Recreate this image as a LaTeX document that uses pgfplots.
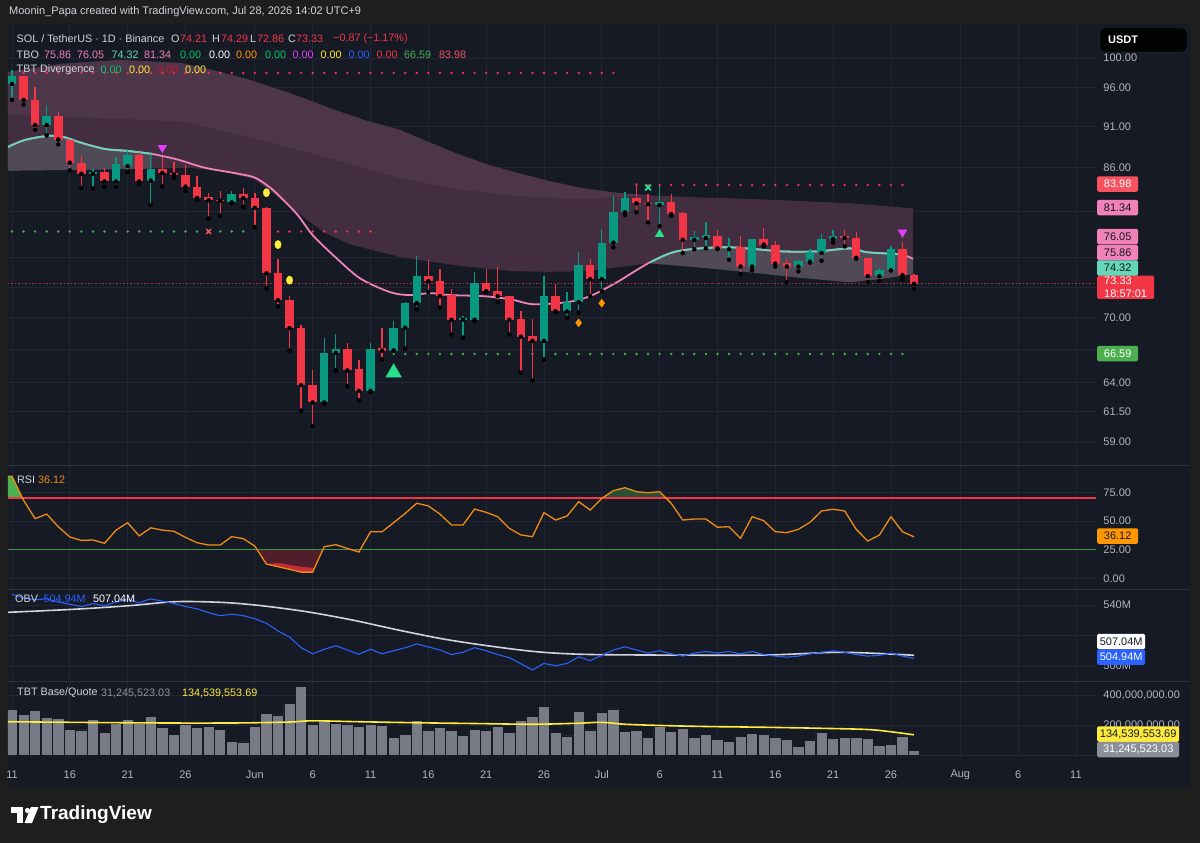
\documentclass[border=0pt]{standalone}
\usepackage{fontspec}
\setmainfont{Liberation Sans}
\usepackage{pgfplots}
\pgfplotsset{compat=1.18}
\usepackage{pgfplotstable}

\definecolor{cBg}{RGB}{22,26,37}
\definecolor{cOuter}{RGB}{30,30,30}
\definecolor{cGrid}{RGB}{34,38,50}
\definecolor{cSep}{RGB}{46,50,62}
\definecolor{cTxt}{RGB}{178,181,190}
\definecolor{cLeg}{RGB}{209,212,220}
\definecolor{cUp}{RGB}{8,153,129}
\definecolor{cDn}{RGB}{242,54,69}
\definecolor{cRedL}{RGB}{247,82,95}
\definecolor{cPink}{RGB}{240,130,185}
\definecolor{cTeal}{RGB}{100,215,185}
\definecolor{cMauve}{RGB}{66,46,64}
\definecolor{cMauveL}{RGB}{78,54,74}
\definecolor{cGreyBand}{RGB}{80,74,88}
\definecolor{cDotG}{RGB}{76,175,80}
\definecolor{cOSline}{RGB}{60,150,66}
\definecolor{cOrange}{RGB}{255,152,0}
\definecolor{cRSI}{RGB}{240,140,20}
\definecolor{cBlue}{RGB}{41,98,255}
\definecolor{cYellow}{RGB}{255,235,59}
\definecolor{cVol}{RGB}{120,123,134}
\definecolor{cMag}{RGB}{224,64,251}
\definecolor{cMint}{RGB}{38,224,140}
\definecolor{cGreen2}{RGB}{0,200,100}
\definecolor{cDarkRed}{RGB}{210,20,50}
\definecolor{cDarkTxt}{RGB}{19,23,34}
\definecolor{cShadeG}{RGB}{40,80,55}
\definecolor{cShadeR}{RGB}{80,30,42}

\newcommand\tf{\fontsize{11}{13}\selectfont}
\newcommand\lf{\fontsize{10.8}{13}\selectfont}

% ---------- candles ----------
\pgfplotstableread{
d o h l c
0 96.5 98.4 94.4 97.5
3 91.2 93.8 89.9 92.3
7 85.3 85.9 83.6 85.5
9 84.4 87.3 83.8 86.4
10 86.2 88.2 85.5 87.5
12 84.5 87.6 81.7 85.9
19 82.0 83.3 81.9 82.9
27 62.3 68.1 62.2 66.7
28 66.7 68.4 65.1 67.0
31 63.3 67.6 63.2 67.05
33 66.9 69.7 66.9 69.05
34 69.05 71.5 67.1 71.4
35 71.4 76.2 70.8 74.1
39 69.8 70.2 68.1 70.0
40 69.8 74.5 69.7 73.4
46 67.8 74.1 66.1 72.1
48 70.6 72.5 70.0 71.5
49 71.5 76.6 70.5 75.3
51 73.8 79.1 72.6 77.6
52 77.6 82.7 77.1 80.9
53 80.9 83.2 80.6 82.5
56 81.7 83.9 79.4 82.1
59 77.9 78.9 76.9 78.2
60 78.1 79.8 77.0 78.4
62 76.9 78.1 75.8 77.0
64 75.1 78.0 74.7 78.0
68 75.1 75.8 74.6 75.7
69 75.6 76.9 75.5 76.6
70 76.5 78.5 75.7 78.0
71 78.0 79.0 77.6 78.3
75 74.1 74.9 73.6 74.7
76 74.7 77.2 74.7 76.9
}\upT

\pgfplotstableread{
d o h l c
1 97.5 97.6 93.8 94.4
2 94.4 96.1 90.6 91.2
4 92.3 92.8 88.8 89.4
5 89.4 89.5 85.7 86.6
6 86.6 87.4 83.65 85.3
8 85.5 86.0 83.8 84.4
11 87.5 87.9 84.1 84.4
13 85.9 87.3 83.8 85.4
14 85.4 86.7 84.8 85.2
15 85.2 86.3 83.3 83.8
16 83.8 85.0 82.3 82.5
17 82.6 83.1 80.2 82.25
18 82.3 83.3 80.5 82.2
20 82.9 83.6 81.5 82.5
21 82.5 83.1 79.3 81.4
22 81.4 81.5 72.9 74.4
23 74.4 75.9 71.1 71.7
24 71.7 72.1 66.9 69.0
25 69.0 69.3 61.6 63.8
26 63.8 65.1 60.3 62.3
29 67.0 67.6 63.7 65.1
30 65.2 66.0 62.5 63.3
32 67.1 69.0 66.1 66.9
36 74.1 75.8 72.5 73.6
37 73.6 74.8 71.0 72.1
38 72.2 72.8 68.4 69.8
41 73.4 74.8 72.5 72.6
42 72.6 75.1 71.5 72.1
43 72.1 72.1 68.4 69.8
44 69.9 70.6 64.9 68.2
45 68.3 69.9 64.2 67.8
47 72.1 73.3 70.6 70.6
50 75.3 75.9 72.1 73.8
54 82.5 84.2 80.9 81.9
55 81.95 83.0 79.8 81.8
57 82.1 83.0 80.5 80.7
58 80.8 80.9 76.5 77.9
61 78.3 79.0 76.9 77.0
63 77.1 78.3 74.3 75.1
65 78.0 79.2 77.2 77.4
66 77.4 77.8 75.1 75.4
67 75.5 75.9 73.5 75.1
72 78.3 79.0 77.2 78.1
73 78.1 78.7 75.9 76.0
74 76.0 76.0 73.5 74.1
77 76.9 77.7 73.8 74.21
78 74.21 74.29 72.86 73.33
}\dnT

% ---------- TBO moving line ----------
\pgfplotstableread{
d p
-0.35 88.50
1.12 89.35
3.11 89.85
4.32 89.76
6.05 88.98
8.04 88.25
10.03 88.01
12.11 87.65
14.35 86.96
16.69 86.0
19.54 85.3
21.01 84.84
22.31 83.7
23.43 82.33
24.73 80.55
26.03 78.36
27.93 76.1
30.09 73.89
32.68 72.5
34.41 72.2
36.14 72.4
37.87 72.2
40.73 72.1
43.06 71.8
45.05 71.3
47.99 71.5
49.98 72.1
52.31 73.49
53.70 74.5
55.17 75.53
57.16 76.58
59.49 77.0
62.34 77.1
66.67 76.67
69.61 76.67
72.46 77.0
73.93 76.58
76.78 76.37
77.91 75.9
}\maT

% ---------- RSI ----------
\pgfplotstableread{
d v
-0.35 89
0 89
1 68
2 52
3 56
4 45
5 36
6 33
7 33.4
8 30.5
9 42
10 48.5
11 37
12 44
13 42
14 41
15 35.7
16 31
17 29
18 29
19 36.3
20 34.6
21 28
22 12.4
23 10.1
24 7.8
25 5.4
26 5.4
27 27.6
28 29.3
29 26
30 22.9
31 40.6
32 40.6
33 48.5
34 56.6
35 65.4
36 63.1
37 56
38 46.5
39 46.5
40 60.4
41 57.5
42 53.7
43 43.6
44 37.8
45 36.3
46 57.2
47 50.8
48 54.3
49 66.8
50 59.5
51 69.7
52 76.4
53 79
54 75.5
55 74.6
56 75.5
57 65.4
58 50.8
59 51.7
60 51.7
61 44.5
62 45
63 34.9
64 53.7
65 50.2
66 40.6
67 39.8
68 42.7
69 48.8
70 58.7
71 60.2
72 58.7
73 42.7
74 32.5
75 37.7
76 53.7
77 40.6
78 36.12
}\rsiT

% ---------- OBV ----------
\pgfplotstableread{
d v
0 547
1 544.6
2 543.5
3 544
4 542
5 540.5
6 539
7 541
8 539.5
9 542
10 543.5
11 541.5
12 544
13 542.5
14 541
15 539
16 537.5
17 535
18 533
19 534
20 533
21 531
22 528
23 523
24 519
25 512
26 508
27 511
28 513.3
29 510.5
30 507.7
31 511
32 508
33 510
34 512
35 514.5
36 512.5
37 510.5
38 507.5
39 509
40 512
41 510
42 507.5
43 505.5
44 501.5
45 497.4
46 501.7
47 500.2
48 501.7
49 506
50 503.5
51 507
52 510.5
53 512.6
54 510.5
55 508.5
56 510
57 508
58 506.5
59 508.5
60 509.5
61 508.5
62 509.5
63 508
64 509.5
65 507.5
66 506.5
67 505.8
68 506.5
69 508
70 509
71 510
72 509
73 507.5
74 506.5
75 507
76 508.5
77 506.5
78 504.94
}\obvT

\pgfplotstableread{
d v
-0.35 535.2
5.6 537.3
10.2 539.6
14.2 542.2
18.2 541.7
21.5 539.6
25.4 535.7
29.4 530.2
33.4 523.6
37.3 517.7
41.3 513.1
45.3 509.4
49.2 507.7
55.2 507.2
65.1 507.2
71.7 509
78 507.04
}\obvmaT

% ---------- volume (millions) ----------
\pgfplotstableread{
d v
0 304
1 273
2 296
3 251
4 242
5 171
6 167
7 240
8 149
9 211
10 238
11 211
12 260
13 184
14 140
15 204
16 182
17 193
18 171
19 89
20 87
21 193
22 278
23 267
24 344
25 456
26 207
27 233
28 211
29 207
30 189
31 202
32 196
33 116
34 140
35 233
36 167
37 182
38 162
39 133
40 173
41 162
42 189
43 151
44 231
45 260
46 322
47 151
48 127
49 293
50 167
51 284
52 307
53 156
54 162
55 118
56 189
57 156
58 178
59 118
60 140
61 104
62 89
63 122
64 144
65 140
66 118
67 104
68 56
69 100
70 149
71 111
72 118
73 116
74 111
75 62
76 73
77 127
78 31.2
}\volT

\pgfplotstableread{
d v
-0.35 222
5 218
10 215
15 213
20 214
24 220
26 228
30 222
35 215
40 210
45 205
49 212
51 218
53 205
56 197
60 190
65 185
70 178
74 170
76 155
78 134.5
}\volmaT

\pgfplotsset{
  pane/.style={
    scale only axis, anchor=south west, width=1088pt,
    xmin=-0.346, xmax=93.73,
    axis line style={draw=none}, major tick length=0pt,
    xtick={0,5,10,15,21,26,31,36,41,46,51,56,61,66,71,76,82,87,92},
    xticklabels={},
    xmajorgrids, ymajorgrids,
    major grid style={draw=cGrid, line width=0.8pt},
    yticklabel pos=right,
    yticklabel style={font=\tf, text=cTxt, anchor=west, xshift=4pt},
    clip=true,
  },
  candle wick/.style={only marks, mark=none, forget plot,
    error bars/.cd, y dir=plus, y explicit, error mark=none,
    error bar style={draw=#1, line width=1.3pt}},
  candle body/.style={only marks, mark=none, forget plot,
    error bars/.cd, y dir=plus, y explicit, error mark=none,
    error bar style={draw=#1, line width=8.5pt}},
}

\newcommand\pbox[5]{\node[fill=#2, text=#3, font=\tf, inner sep=0pt, minimum height=15.5pt, minimum width=#5, anchor=west, rounded corners=1.5pt] at (1097,#1) {#4};}

\begin{document}
\begin{tikzpicture}
\begin{scope}[x=1pt,y=-1pt]
\fill[cOuter] (0,0) rectangle (1200,843);
\fill[cBg, rounded corners=3pt] (8,24) rectangle (1190,787);
\end{scope}

% ================= MAIN PRICE PANE =================
\begin{axis}[pane, at={(8pt,-464pt)}, height=440pt,
  ymode=log, ymin=57.25, ymax=104.78,
  ytick={59,61.5,64,67,70,73,76,81,86,91,96,100},
  yticklabels={59.00,61.50,64.00,,70.00,,,,86.00,91.00,96.00,100.00},
]
% TBO cloud: upper band edge forward, lower band edge back
\addplot[fill=cMauve, draw=none, forget plot] coordinates {
 (-0.35,98.09) (4.15,99.18) (9.34,99.73) (14.53,99.32) (17.5,98.3) (20.58,97.02) (24,95.3) (27.93,93.1)
 (30.5,91.8) (33.55,90.6) (36,89.1) (38.74,87.53) (41.3,86.3) (43.93,85.3) (46.6,84.4) (49.37,83.6)
 (52.2,83.1) (55.17,82.8) (59.5,82.55) (63.81,82.4) (68.1,82.15) (72.46,81.9) (77.91,81.34)
 (77.91,74.32) (75,73.8) (72.46,73.49) (68.1,73.95) (63.81,74.5) (59.5,75.0) (55.17,75.42)
 (52.2,75.0) (49.37,74.6) (46.5,74.55) (43.67,74.6) (40.8,74.9) (37.87,75.31) (33.5,76.1)
 (29.23,77.41) (27,78.7) (24.9,80.66) (23,82.6) (21.01,84.61) (18.2,85.6) (15.39,86.0)
 (11.5,85.9) (7.61,85.78) (-0.35,85.66)};
% lighter upper layer of the cloud
\addplot[fill=cMauveL, draw=none, forget plot] coordinates {
 (-0.35,98.09) (4.15,99.18) (9.34,99.73) (14.53,99.32) (17.5,98.3) (20.58,97.02) (24,95.3) (27.93,93.1)
 (30.5,91.8) (33.55,90.6) (36,89.1) (38.74,87.53) (41.3,86.3) (43.93,85.3) (46.6,84.4) (49.37,83.6)
 (52.2,83.1) (55.17,82.8)
 (49.37,82.4) (43.93,82.7) (38.74,83.46) (33.55,84.8) (27.93,86.96) (21.44,89.37) (14.96,91.6)
 (7.61,92.1) (-0.35,92.48)};
% grey band between the moving line and the lower edge
\addplot[fill=cGreyBand, draw=none, forget plot] coordinates {
 (-0.35,88.50) (1.12,89.35) (3.11,89.85) (4.32,89.76) (6.05,88.98) (8.04,88.25) (10.03,88.01) (12.11,87.65)
 (12.11,85.9) (7.61,85.78) (-0.35,85.66)};
\addplot[fill=cGreyBand, draw=none, forget plot] coordinates {
 (55.17,75.53) (57.16,76.58) (59.49,77.0) (62.34,77.1) (66.67,76.67) (69.61,76.67) (72.46,77.0)
 (73.93,76.58) (76.78,76.37) (77.91,75.9)
 (77.91,74.32) (75,73.8) (72.46,73.49) (68.1,73.95) (63.81,74.5) (59.5,75.0) (55.17,75.42)};
% moving line
\addplot[cPink, line width=1.8pt, smooth, forget plot] table[x=d,y=p] {\maT};
\addplot[cTeal, line width=1.8pt, smooth, forget plot, restrict x to domain=-1:12.2] table[x=d,y=p] {\maT};
\addplot[cTeal, line width=1.8pt, smooth, forget plot, restrict x to domain=55:76.8] table[x=d,y=p] {\maT};
% dotted levels
\addplot[cDn, line width=2.7pt, line cap=round, dash pattern=on 0pt off 11.565pt, forget plot] coordinates {(0,97.96) (53,97.96)};
\addplot[cDotG, line width=2.7pt, line cap=round, dash pattern=on 0pt off 11.565pt, forget plot] coordinates {(0,78.8) (21,78.8)};
\addplot[cDn, line width=2.7pt, line cap=round, dash pattern=on 0pt off 11.565pt, forget plot] coordinates {(22,78.8) (32,78.8)};
\addplot[cDotG, line width=2.7pt, line cap=round, dash pattern=on 0pt off 11.565pt, forget plot] coordinates {(33,66.59) (78,66.59)};
\addplot[cDn, line width=2.7pt, line cap=round, dash pattern=on 0pt off 11.565pt, forget plot] coordinates {(54,83.98) (78,83.98)};
% current price line
\addplot[cDn!75!cBg, line width=1pt, dash pattern=on 1.5pt off 2pt, forget plot] coordinates {(-0.35,73.33) (93.73,73.33)};
% candles
\addplot[candle wick=cUp] table[x=d, y=l, y error plus expr={\thisrow{h}-\thisrow{l}}] {\upT};
\addplot[candle wick=cDn] table[x=d, y=l, y error plus expr={\thisrow{h}-\thisrow{l}}] {\dnT};
\addplot[candle body=cUp] table[x=d, y expr={min(\thisrow{o},\thisrow{c})}, y error plus expr={max(abs(\thisrow{c}-\thisrow{o}),0.12)}] {\upT};
\addplot[candle body=cDn] table[x=d, y expr={min(\thisrow{o},\thisrow{c})}, y error plus expr={max(abs(\thisrow{c}-\thisrow{o}),0.12)}] {\dnT};
% signal markers
\addplot[only marks, mark=triangle*, mark size=5pt, mark options={rotate=180, fill=cMag, draw=cMag}, forget plot] coordinates {(13,88.4) (77,78.7)};
\addplot[only marks, mark=*, mark size=3.2pt, mark options={yscale=1.3, fill=cYellow, draw=cYellow}, forget plot] coordinates {(22,83.1) (23,77.4) (24,73.7)};
\addplot[only marks, mark=triangle*, mark size=9pt, mark options={fill=cMint, draw=cMint}, forget plot] coordinates {(33,64.9)};
\addplot[only marks, mark=triangle*, mark size=5pt, mark options={fill=cMint, draw=cMint}, forget plot] coordinates {(56,78.5)};
\addplot[only marks, mark=diamond*, mark size=4pt, mark options={fill=cOrange, draw=cOrange}, forget plot] coordinates {(49,69.5) (51,71.4)};
\addplot[only marks, mark=x, mark size=4pt, mark options={line width=1.8pt, draw=cMint}, forget plot] coordinates {(55,83.7)};
\addplot[only marks, mark=x, mark size=3.5pt, mark options={line width=1.5pt, draw=cRedL}, forget plot] coordinates {(17,78.8)};
\end{axis}

% ================= RSI PANE =================
\begin{axis}[pane, at={(8pt,-588pt)}, height=122pt,
  ymin=-8.46, ymax=97.91,
  ytick={0,50,75}, yticklabels={0.00,50.00,75.00},
  extra y ticks={25}, extra y tick labels={25.00},
  extra y tick style={grid=none},
]
\addplot[fill=cDotG, draw=none, forget plot] coordinates {(-0.35,70) (-0.35,89) (0,89) (0.905,70)};
\addplot[fill=cShadeG, draw=none, forget plot] coordinates {(51.05,70) (52,76.4) (53,79) (54,75.5) (55,74.6) (56,75.5) (56.55,70)};
\addplot[fill=cShadeR, draw=none, forget plot] coordinates {(21.19,25) (22,12.4) (23,10.1) (24,7.8) (25,5.4) (26,5.4) (26.88,25)};
\addplot[fill=cDn!80!black, draw=none, forget plot] coordinates {(22,12.4) (23,10.1) (24,7.8) (25,5.4) (26,5.4) (26.2,9) (25,10) (23,13.5)};
\addplot[fill=cShadeR, draw=none, forget plot] coordinates {(29.32,25) (30,22.9) (30.12,25)};
\draw[cOSline, line width=1.5pt] (axis cs:-0.35,25) -- (axis cs:93.73,25);
\draw[cDn, line width=1.4pt] (axis cs:-0.35,70) -- (axis cs:93.73,70);
\addplot[draw=cRSI, line width=1.3pt, forget plot] table[x=d,y=v] {\rsiT};
\end{axis}

% ================= OBV PANE =================
\begin{axis}[pane, at={(8pt,-680pt)}, height=90pt,
  ymin=490.82, ymax=549.84,
  ytick={500,520,540}, yticklabels={500M,,540M},
]
\addplot[cLeg, line width=1.6pt, smooth, forget plot] table[x=d,y=v] {\obvmaT};
\addplot[cBlue, line width=1.1pt, forget plot] table[x=d,y=v] {\obvT};
\end{axis}

% ================= VOLUME PANE =================
\begin{axis}[pane, at={(8pt,-757pt)}, height=75pt,
  ymin=-13.33, ymax=486.67,
  ytick={0,200,400}, yticklabels={,{200,000,000.00},{400,000,000.00}},
  xticklabels={11,16,21,26,Jun,6,11,16,21,26,Jul,6,11,16,21,26,Aug,6,11},
  xticklabel style={font=\tf, text=cTxt, anchor=center, yshift=-18pt},
]
\addplot[ybar, bar width=11.3pt, fill=cVol, draw=cBg, line width=0.7pt, forget plot] table[x=d,y=v] {\volT};
\addplot[cYellow, line width=1.6pt, smooth, forget plot] table[x=d,y=v] {\volmaT};
\end{axis}

\begin{scope}[x=1pt,y=-1pt]
% separators
\draw[cSep, line width=1pt] (8,465) -- (1190,465);
\draw[cSep, line width=1pt] (8,589) -- (1190,589);
\draw[cSep, line width=1pt] (8,681) -- (1190,681);
% header
\node[anchor=west, inner sep=0, text=cLeg, font=\fontsize{11}{13}\selectfont] at (9,12) {Moonin\_Papa created with TradingView.com, Jul 28, 2026 14:02 UTC+9};
% legends
\begin{scope}[every node/.style={anchor=west, inner sep=0, font=\lf}]
\node[text=cLeg] at (16.5,39) {SOL / TetherUS · 1D · Binance};
\node[text=cLeg] at (171,39) {O};  \node[text=cDn] at (180,39) {74.21};
\node[text=cLeg] at (212,39) {H};  \node[text=cDn] at (221,39) {74.29};
\node[text=cLeg] at (250,39) {L};  \node[text=cDn] at (257,39) {72.86};
\node[text=cLeg] at (288,39) {C};  \node[text=cDn] at (296,39) {73.33};
\node[text=cDn] at (333,39) {−0.87 (−1.17\%)};
\node[text=cLeg] at (16.5,54.5) {TBO};
\node[text=cPink] at (44,54.5) {75.86};
\node[text=cPink] at (77,54.5) {76.05};
\node[text=cTeal] at (111.5,54.5) {74.32};
\node[text=cPink] at (144,54.5) {81.34};
\node[text=cGreen2] at (180,54.5) {0.00};
\node[text=white] at (209,54.5) {0.00};
\node[text=cOrange] at (236,54.5) {0.00};
\node[text=cGreen2] at (265,54.5) {0.00};
\node[text=cMag] at (292.5,54.5) {0.00};
\node[text=cYellow] at (320.5,54.5) {0.00};
\node[text=cBlue] at (348.5,54.5) {0.00};
\node[text=cDn] at (376.5,54.5) {0.00};
\node[text=cDotG] at (404,54.5) {66.59};
\node[text=cRedL] at (439,54.5) {83.98};
\node[text=cLeg] at (16.5,70) {TBT Divergence};
\node[text=cGreen2] at (100.5,70) {0.00};
\node[text=cYellow] at (129,70) {0.00};
\node[text=cDarkRed] at (157,70) {0.00};
\node[text=cYellow] at (185,70) {0.00};
\node[text=cLeg] at (17,480) {RSI};
\node[text=cRSI] at (38,480) {36.12};
\node[text=cLeg] at (15,599) {OBV};
\node[text=cBlue] at (43.5,599) {504.94M};
\node[text=white] at (93,599) {507.04M};
\node[text=cLeg] at (17,693) {TBT Base/Quote};
\node[text=cVol!80!white] at (101,693) {31,245,523.03};
\node[text=cYellow] at (182,693) {134,539,553.69};
\end{scope}
% price-scale boxes
\fill[black!90!cBg, draw=cSep, rounded corners=4pt] (1100,28) rectangle (1187,52);
\node[anchor=west, inner sep=0, text=white, font=\fontsize{11}{13}\selectfont\bfseries] at (1108,40) {USDT};
\pbox{184}{cRedL}{white}{83.98}{41pt}
\pbox{207.5}{cPink}{cDarkTxt}{81.34}{41pt}
\pbox{236.5}{cPink}{cDarkTxt}{76.05}{41pt}
\pbox{252.5}{cPink}{cDarkTxt}{75.86}{41pt}
\pbox{268}{cTeal}{cDarkTxt}{74.32}{41pt}
\node[fill=cDn, text=white, font=\tf, align=left, inner xsep=7pt, inner ysep=1.5pt, anchor=north west, rounded corners=1.5pt, minimum width=55pt] at (1097,275.5) {73.33\\[-0.5pt]18:57:01};
\pbox{353.5}{cDotG}{white}{66.59}{41pt}
\pbox{536}{cOrange}{cDarkTxt}{36.12}{41pt}
\pbox{641.5}{white}{cDarkTxt}{507.04M}{48pt}
\pbox{657}{cBlue}{white}{504.94M}{48pt}
\pbox{734}{cYellow}{cDarkTxt}{134,539,553.69}{82pt}
\pbox{749.5}{cVol!85!white}{white}{31,245,523.03}{82pt}
% footer logo
\fill[white] (11,807) rectangle (23,812.5);
\fill[white] (17,807) rectangle (23,823);
\fill[white] (27.5,810.5) circle (2.6);
\fill[white] (31,807) -- (38.5,807) -- (32,823) -- (24.5,823) -- cycle;
\node[anchor=west, inner sep=0, text=white, font=\fontsize{19}{22}\selectfont\bfseries] at (40,815) {TradingView};
\end{scope}
\pgfresetboundingbox
\path[use as bounding box] (0pt,0pt) rectangle (1200pt,-843pt);
\end{tikzpicture}
\end{document}
